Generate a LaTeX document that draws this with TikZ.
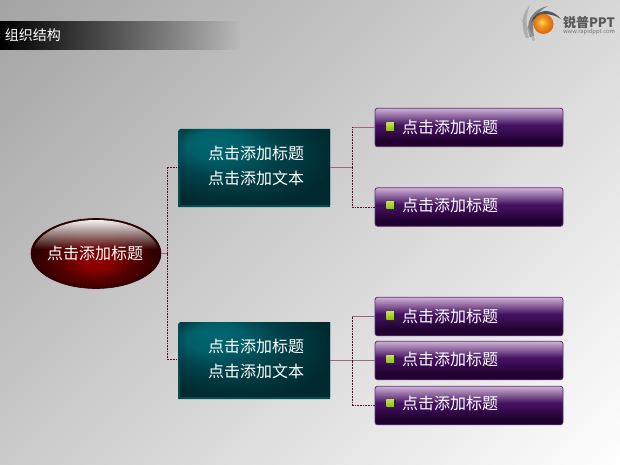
\documentclass[tikz,border=0pt]{standalone}
\usepackage{fontspec}
\setmainfont{Noto Sans CJK SC}
\usetikzlibrary{shapes.geometric,fadings,calc}
\definecolor{tealA}{HTML}{00656F}
\definecolor{tealB}{HTML}{004048}
\definecolor{tealC}{HTML}{002A30}
\definecolor{lineRed}{HTML}{7A1030}
\definecolor{linePale}{HTML}{9A6A7A}
\definecolor{purple1}{HTML}{CFB2D6}
\definecolor{purple2}{HTML}{42105E}
\definecolor{purple3}{HTML}{20002E}
\definecolor{rA}{HTML}{8A0000}
\definecolor{rB}{HTML}{5A0000}
\definecolor{rC}{HTML}{2E0000}
\definecolor{ballA}{HTML}{FFE060}
\definecolor{ballB}{HTML}{F59A20}
\definecolor{ballC}{HTML}{D96A10}
\definecolor{bgDark}{HTML}{A4A4A4}
\definecolor{bgLight}{HTML}{FEFEFE}
\definecolor{bulletTop}{HTML}{C4DC5C}
\definecolor{bulletBot}{HTML}{8CC400}
\pgfdeclareverticalshading{bgdiag}{100bp}{color(0bp)=(bgLight); color(14.64bp)=(bgLight); color(85.36bp)=(bgDark); color(100bp)=(bgDark)}
\pgfdeclareradialshading{tealglow}{\pgfpoint{-16bp}{18bp}}{color(0bp)=(tealA); color(9bp)=(tealA!85!tealB); color(19bp)=(tealB); color(32bp)=(tealC); color(50bp)=(tealC)}
\pgfdeclareverticalshading{purplebar}{100bp}{color(0bp)=(purple3); color(25bp)=(purple3); color(33bp)=(purple3); color(50bp)=(purple2); color(53bp)=(purple2); color(75bp)=(purple1); color(100bp)=(purple1)}
\pgfdeclareradialshading{redball}{\pgfpoint{0bp}{-7bp}}{color(0bp)=(rA); color(5bp)=(rA); color(13bp)=(rB); color(24bp)=(rC); color(50bp)=(rC)}
\pgfdeclareradialshading{logoball}{\pgfpoint{-5bp}{5bp}}{color(0bp)=(ballA); color(10bp)=(ballB); color(25bp)=(ballC); color(50bp)=(ballC)}
\tikzfading[name=gloss, top color=transparent!5, bottom color=transparent!100]
\tikzfading[name=headfade, left color=transparent!0, middle color=transparent!55, right color=transparent!100]
\tikzset{
  x=1pt,y=-1pt,
  every node/.style={inner sep=0pt,outer sep=0pt},
  labeltext/.style={text=white,font=\fontsize{16}{25}\selectfont},
  bigbox/.style={rectangle,shade,shading=tealglow,draw=none},
  bevel/.style={fill=tealA!60!tealC},
  leafbox/.style={rectangle,rounded corners=2.5pt,minimum width=188pt,minimum height=38.5pt,shade,shading=purplebar,draw=purple2!80!purple1,line width=.8pt},
  rootnode/.style={ellipse,minimum width=130pt,minimum height=70pt,shade,shading=redball,draw=rC,line width=.6pt},
  bullet/.style={rectangle,minimum size=7.5pt,top color=bulletTop,bottom color=bulletBot},
  solidlink/.style={draw=linePale,line width=.9pt},
  dotlink/.style={draw=lineRed!70!black,line width=.9pt,dash pattern=on .9pt off .7pt},
}
\begin{document}
\begin{tikzpicture}
\useasboundingbox (0,0) rectangle (620,465);
\shade[shading=bgdiag,shading angle=45] (0,0) rectangle (620,465);
% header
\fill[black,path fading=headfade] (0,21) rectangle (240,50);
\node[anchor=west,text=white,font=\fontsize{14}{16}\selectfont] (head) at (5,35) {组织结构};
% logo
\begin{scope}
  \fill[black!60,opacity=.75] (530,37) .. controls (525,24) and (530,10) .. (548,6) .. controls (535,12) and (531,24) .. (534,36) -- cycle;
  \fill[black!75,opacity=.85] (531,22) .. controls (536,9) and (551,7) .. (561,19) .. controls (550,12) and (540,13) .. (531,22) -- cycle;
  \fill[black!35,opacity=.8] (526,38) .. controls (520,26) and (522,12) .. (530,5) .. controls (526,14) and (525,26) .. (529,38) -- cycle;
  \fill[black!35,opacity=.7] (520,18) .. controls (526,24) and (531,31) .. (535,40) -- (533,41) .. controls (529,32) and (525,26) .. (520,18) -- cycle;
  \shade[shading=logoball] (543.5,24) circle (10);
\end{scope}
\node[anchor=west,text=black!65,font=\fontsize{13}{14}\selectfont\bfseries] (logoa) at (563,23) {锐普PPT};
\node[anchor=west,text=black!55,font=\fontsize{5.8}{6}\selectfont] (logob) at (563,31.5) {www.rapidppt.com};
% bevels + boxes
\fill[bevel] (180,129) -- (330,129) -- (330,207) -- (178,207) -- (178,131) -- cycle;
\fill[bevel] (180,322) -- (330,322) -- (330,399) -- (178,399) -- (178,324) -- cycle;
\node[rootnode] (root) at (96,253.5) {};
\begin{scope}
  \clip (96,253.5) ellipse [x radius=62.5,y radius=33.5];
  \fill[white,path fading=gloss] (30,220) rectangle (162,249);
\end{scope}
\node[labeltext] (roottxt) at (95,253) {点击添加标题};
\node[bigbox,minimum width=150pt,minimum height=75.5pt] (t1) at (255,167) {};
\node[bigbox,minimum width=150pt,minimum height=74.5pt] (t2) at (255,359.7) {};
\node[labeltext,align=center] (t1t) at (256,165.5) {点击添加标题\\点击添加文本};
\node[labeltext,align=center] (t2t) at (256,358.5) {点击添加标题\\点击添加文本};
\foreach \n/\y/\ty in {a/127.5/127,b/207/205.5,c/316.5/316,d/360.5/359.5,e/405.5/403.5}{
  \node[leafbox] (\n) at (469,\y) {};
  \fill[black!85] (387,\ty-3.5) rectangle (395.5,\ty+4.5);
  \node[bullet] (\n b) at (390,\ty-.5) {};
  \node[labeltext,anchor=west] (\n t) at (402,\ty) {点击添加标题};
}
% junctions
\coordinate (j0) at (167,253.5);
\coordinate (j1) at (352,168);
\coordinate (j2) at (352,360.5);
\draw[solidlink] (root.east) -- (j0);
\draw[dotlink] (t1.west) -| (j0);
\draw[dotlink] (t2.west) -| (j0);
\draw[solidlink] (t1.east) -- (t1.east -| j1);
\draw[solidlink] (d.west -| t2.east) -- (d.west);
\draw[solidlink] (a.west) -- (a.west -| j1);
\draw[dotlink] (a.west -| j1) -- (t1.east -| j1);
\draw[dotlink] (b.west) -| (t1.east -| j1);
\draw[solidlink] (c.west) -- (c.west -| j2);
\draw[dotlink] (c.west -| j2) -- (j2);
\draw[dotlink] (e.west) -| (j2);
\end{tikzpicture}
\end{document}
